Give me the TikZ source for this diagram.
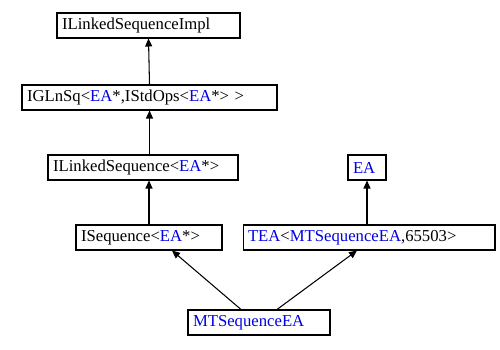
\documentclass[tikz,border=0pt]{standalone}
\usepackage{fontspec}
\setmainfont{Liberation Serif}
\usetikzlibrary{arrows.meta}
\definecolor{tplblue}{RGB}{0,0,230}
\newcommand{\tb}[1]{\textcolor{tplblue}{#1}}
\begin{document}
\begin{tikzpicture}[x=0.02cm,y=-0.02cm,
  cls/.style={draw=black, line width=0.6pt, fill=white, inner xsep=0.1cm,
    inner ysep=0pt, minimum height=0.5cm, align=left,
    font=\fontsize{9.5}{11}\selectfont},
  inherit/.style={draw=black, line width=0.6pt,
    -{Triangle[length=0.16cm,width=0.14cm]}}]
  \fill[white] (0,0) rectangle (500,350);
  \useasboundingbox (0,0) rectangle (500,350);
  % class boxes
  \node[cls, text width=3.46cm] (impl) at (148.5,25.5) {ILinkedSequenceImpl};
  \node[cls, text width=4.90cm] (glnsq) at (149.5,97.5)
    {IGLnSq<\tb{EA}*,IStdOps<\tb{EA}*> >};
  \node[cls, text width=3.60cm] (lseq) at (143,167.5)
    {ILinkedSequence<\tb{EA}*>};
  \node[cls, text width=0.56cm] (ea) at (367,167.5) {\tb{EA}};
  \node[cls, text width=2.72cm] (seq) at (149,237.5) {ISequence<\tb{EA}*>};
  \node[cls, text width=4.84cm] (tea) at (369,237.5)
    {\tb{TEA}<\tb{MTSequenceEA},65503>};
  \node[cls, text width=2.64cm] (mts) at (259,322.5) {\tb{MTSequenceEA}};
  % inheritance connectors
  \draw[inherit] (glnsq.north) -- (impl.south);
  \draw[inherit] (lseq.north -| glnsq.north) -- (glnsq.south);
  \draw[inherit] (seq.north) -- (seq.north |- lseq.south);
  \draw[inherit] (tea.north -| ea.south) -- (ea.south);
  \draw[inherit] ([xshift=-0.36cm]mts.north) -- ([xshift=0.46cm]seq.south);
  \draw[inherit] ([xshift=0.36cm]mts.north) -- ([xshift=-0.24cm]tea.south);
\end{tikzpicture}
\end{document}
